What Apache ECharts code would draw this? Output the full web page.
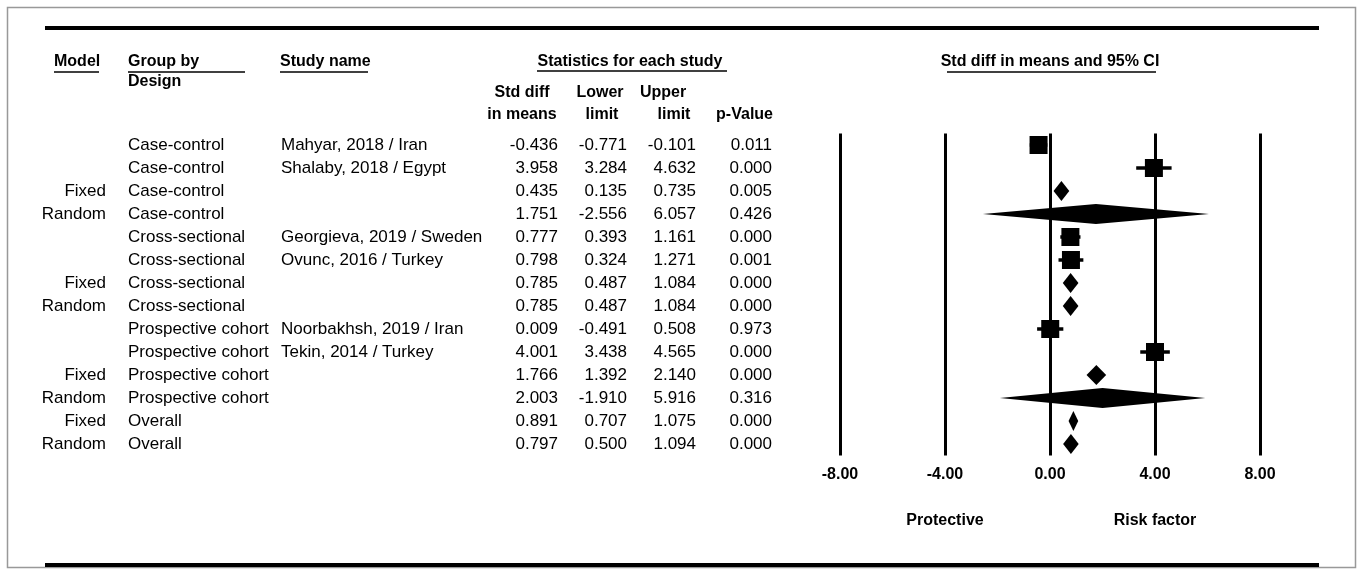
<!DOCTYPE html>
<html>
<head>
<meta charset="UTF-8">
<title>Forest plot</title>
<script src="https://cdn.jsdelivr.net/npm/echarts@6/dist/echarts.min.js"></script>
</head>
<body style="margin:0;background:#fff">
<div id="main" style="width:1357px;height:569px"></div>
<script>
    // table rows
    const models = ['', '', 'Fixed', 'Random', '', '', 'Fixed', 'Random', '', '', 'Fixed', 'Random', 'Fixed', 'Random'];
    const groups = ['Case-control', 'Case-control', 'Case-control', 'Case-control',
        'Cross-sectional', 'Cross-sectional', 'Cross-sectional', 'Cross-sectional',
        'Prospective cohort', 'Prospective cohort', 'Prospective cohort', 'Prospective cohort',
        'Overall', 'Overall'];
    const studies = ['Mahyar, 2018 / Iran', 'Shalaby, 2018 / Egypt', '', '',
        'Georgieva, 2019 / Sweden', 'Ovunc, 2016 / Turkey', '', '',
        'Noorbakhsh, 2019 / Iran', 'Tekin, 2014 / Turkey', '', '', '', ''];
    const effects = [-0.436, 3.958, 0.435, 1.751, 0.777, 0.798, 0.785, 0.785, 0.009, 4.001, 1.766, 2.003, 0.891, 0.797];
    const lowers = [-0.771, 3.284, 0.135, -2.556, 0.393, 0.324, 0.487, 0.487, -0.491, 3.438, 1.392, -1.910, 0.707, 0.500];
    const uppers = [-0.101, 4.632, 0.735, 6.057, 1.161, 1.271, 1.084, 1.084, 0.508, 4.565, 2.140, 5.916, 1.075, 1.094];
    const pValues = [0.011, 0.000, 0.005, 0.426, 0.000, 0.001, 0.000, 0.000, 0.973, 0.000, 0.000, 0.316, 0.000, 0.000];
    const xTicks = [-8, -4, 0, 4, 8];

    const FONT = '"Liberation Sans", Arial, sans-serif';
    const rowIdx = groups.map((g, i) => String(i));
    // x pixel anchors for table columns (table axis runs 0..840 px)
    const col = { model: 106, group: 128, study: 281, effect: 558, lower: 627, upper: 696, p: 772 };

    let myChart = echarts.init(document.getElementById('main'));

    function txt(x, y, text, align, bold, size) {
        return {
            type: 'text',
            style: {
                x: x, y: y, text: text, align: align, verticalAlign: 'middle',
                fontSize: size || 17, fontWeight: bold ? 'bold' : 'normal',
                fontFamily: FONT, fill: '#000'
            }
        };
    }

    let option = {
        animation: false,
        grid: [
            { left: 840, width: 420, top: 133.5, height: 322 },
            { left: 0, width: 840, top: 133.5, height: 322 }
        ],
        xAxis: [
            {
                gridIndex: 0, type: 'value', min: xTicks[0], max: xTicks[xTicks.length - 1], interval: 4,
                axisLine: { show: false }, axisTick: { show: false },
                axisLabel: {
                    margin: 11, fontSize: 16, fontWeight: 'bold', fontFamily: FONT, color: '#000',
                    formatter: v => v.toFixed(2)
                },
                splitLine: { show: true, lineStyle: { color: '#000', width: 3 } }
            },
            { gridIndex: 1, type: 'value', min: 0, max: 840, show: false }
        ],
        yAxis: [
            { gridIndex: 0, type: 'category', data: rowIdx, inverse: true, show: false },
            { gridIndex: 1, type: 'category', data: rowIdx, inverse: true, show: false }
        ],
        series: [
            {
                type: 'custom',
                xAxisIndex: 0, yAxisIndex: 0,
                silent: true,
                data: effects.map((e, i) => [e, i, lowers[i], uppers[i]]),
                encode: { x: [0, 2, 3], y: 1 },
                renderItem: function (params, api) {
                    const i = api.value(1);
                    const c = api.coord([api.value(0), i]);
                    const lo = api.coord([api.value(2), i]);
                    const hi = api.coord([api.value(3), i]);
                    if (models[i] === '') {
                        const s = 18;
                        return {
                            type: 'group',
                            children: [
                                { type: 'line', shape: { x1: lo[0], y1: c[1], x2: hi[0], y2: c[1] },
                                  style: { stroke: '#000', lineWidth: 3.5 } },
                                { type: 'rect', shape: { x: c[0] - s / 2, y: c[1] - s / 2, width: s, height: s },
                                  style: { fill: '#000' } }
                            ]
                        };
                    }
                    const h = 10;
                    return {
                        type: 'polygon',
                        shape: { points: [[lo[0], c[1]], [c[0], c[1] - h], [hi[0], c[1]], [c[0], c[1] + h]] },
                        style: { fill: '#000' }
                    };
                }
            },
            {
                type: 'custom',
                xAxisIndex: 1, yAxisIndex: 1,
                silent: true,
                data: groups.map((g, i) => [0, i]),
                encode: { x: 0, y: 1 },
                renderItem: function (params, api) {
                    const i = api.value(1);
                    const y = api.coord([0, i])[1];
                    const X = k => api.coord([col[k], i])[0];
                    return {
                        type: 'group',
                        children: [
                            txt(X('model'), y, models[i], 'right'),
                            txt(X('group'), y, groups[i], 'left'),
                            txt(X('study'), y, studies[i], 'left'),
                            txt(X('effect'), y, effects[i].toFixed(3), 'right'),
                            txt(X('lower'), y, lowers[i].toFixed(3), 'right'),
                            txt(X('upper'), y, uppers[i].toFixed(3), 'right'),
                            txt(X('p'), y, pValues[i].toFixed(3), 'right')
                        ]
                    };
                }
            }
        ]
    };
    myChart.setOption(option);

    const px = v => myChart.convertToPixel({ xAxisIndex: 0 }, v);
    function hline(x1, x2, y, w) {
        return { type: 'line', shape: { x1: x1, y1: y, x2: x2, y2: y }, style: { stroke: '#000', lineWidth: w }, silent: true };
    }
    function gtxt(x, y, text, align) {
        const t = txt(x, y, text, align, true, 16);
        t.silent = true;
        return t;
    }

    myChart.setOption({
        graphic: [
            { type: 'rect', shape: { x: 7.5, y: 7.5, width: 1348, height: 560 },
              style: { fill: 'none', stroke: '#999', lineWidth: 1.5 }, silent: true },
            hline(45, 1319, 28, 4),
            hline(45, 1319, 565, 4),
            gtxt(54, 62, 'Model', 'left'), hline(54, 99, 72, 1.5),
            gtxt(128, 62, 'Group by', 'left'), hline(128, 245, 72, 1.5),
            gtxt(128, 82, 'Design', 'left'),
            gtxt(280, 62, 'Study name', 'left'), hline(280, 368, 72, 1.5),
            gtxt(630, 62, 'Statistics for each study', 'center'), hline(537, 727, 71, 1.5),
            gtxt(522, 93, 'Std diff', 'center'), gtxt(522, 115, 'in means', 'center'),
            gtxt(600, 93, 'Lower', 'center'), gtxt(602, 115, 'limit', 'center'),
            gtxt(663, 93, 'Upper', 'center'), gtxt(674, 115, 'limit', 'center'),
            gtxt(773, 115, 'p-Value', 'right'),
            gtxt(px(0), 62, 'Std diff in means and 95% CI', 'center'), hline(947, 1156, 72, 1.5),
            gtxt(px(-4), 521, 'Protective', 'center'),
            gtxt(px(4), 521, 'Risk factor', 'center')
        ]
    });
</script>
</body>
</html>
